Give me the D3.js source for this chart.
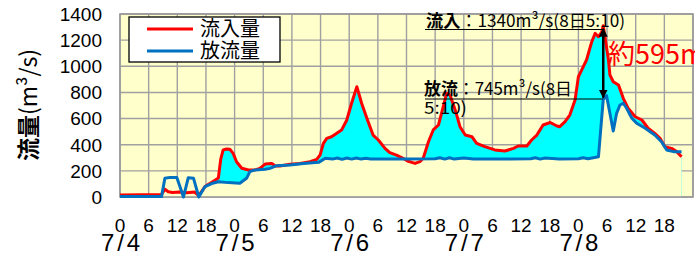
<!DOCTYPE html>
<html>
<head>
<meta charset="utf-8">
<script src="https://cdn.jsdelivr.net/npm/d3@7"></script>
<style>
  html, body { margin: 0; padding: 0; background: #ffffff; }
  svg { display: block; }
</style>
</head>
<body>
<div id="chart"></div>
<script>
// Hours counted from 7/4 0:00
const inflowHours = [0, 8.7, 9.4, 10.1, 11, 12.5, 14, 15.6, 16.5, 17.8, 19.9, 20.6, 21.1, 21.6, 22.3, 23.0, 23.7, 24.4, 25.5, 26.9,
  28.3, 29.3, 30.4, 31.8, 32.5, 33.5, 35.6, 37.7, 39.8, 41.2, 41.9, 42.6, 43.3, 44.3, 45.4, 46.4, 47.5, 48.5, 49.6, 50.6,
  51.7, 53.0, 54.1, 55.5, 56.5, 57.9, 59.3, 60.2, 61.8, 62.8, 63.5, 64.6, 65.6, 66.7, 67.7, 68.4, 69.1, 70.2, 71.2, 72.3,
  73.7, 74.7, 76.4, 78.5, 80.6, 82.4, 83.4, 85.2, 86.2, 87.3, 88.6, 90.1, 91.5, 92.1, 93.2, 94.2, 95.3, 96.0, 96.7, 97.7,
  98.8, 99.5, 100.2, 100.9, 101.2, 102.3, 102.6, 103.3, 104.4, 105.4, 106.4, 107.9, 109.3, 110.6, 112.0, 113.1, 114.1, 115.5, 116.6, 117.6];
const inflow = [15, 20, 60, 40, 35, 38, 32, 38, 10, 80, 128, 145, 290, 360, 367, 365, 334, 270, 220, 207,
  207, 219, 252, 257, 237, 237, 250, 257, 270, 288, 321, 410, 449, 461, 487, 512, 589, 717, 844, 717,
  602, 474, 436, 372, 339, 321, 296, 275, 257, 270, 296, 423, 513, 551, 691, 793, 780, 666, 538, 474,
  461, 411, 385, 360, 352, 372, 390, 390, 436, 474, 551, 570, 543, 538, 576, 627, 742, 920, 972, 1048,
  1188, 1252, 1226, 1264, 1310, 1048, 933, 882, 857, 755, 679, 614, 589, 526, 487, 449, 385, 372, 347, 308];

const outflowHours = [0, 8.7, 9.4, 10.5, 11.9, 13.3, 14.3, 15.4, 16.5, 17.8, 19.2, 20.6, 22.7, 25.1, 26.5, 27.2, 28.3, 30.4, 31.4, 32.8,
  35.6, 38.4, 41.6, 43.0, 44.5, 45.5, 46.5, 47.5, 48.5, 49.5, 50.5, 51.5, 52.5, 60, 66, 67, 68, 69, 70, 72,
  74, 80, 86, 87, 88, 89, 92, 96, 97, 98, 100.2, 101.2, 101.9, 103.3, 104.0, 104.7, 105.4, 106.1, 107.2, 108.2,
  110.0, 112.0, 113.4, 114.5, 115.9, 117.6];
const outflow = [3, 3, 143, 150, 150, 0, 148, 143, 0, 80, 103, 117, 110, 105, 143, 194, 207, 212, 219, 240,
  245, 257, 265, 296, 290, 298, 288, 298, 290, 298, 290, 296, 290, 290, 292, 300, 290, 300, 290, 298,
  290, 290, 292, 300, 290, 298, 290, 292, 300, 292, 308, 745, 775, 505, 640, 704, 717, 679, 602, 564,
  526, 474, 423, 360, 347, 347];

const yTicks = [0, 200, 400, 600, 800, 1000, 1200, 1400];
const hourLabels = ['0', '6', '12', '18'];
const dayLabels = ['7/4', '7/5', '7/6', '7/7', '7/8'];
const seriesNames = ['流入量', '放流量'];

const W = 695, H = 255;
const plot = { left: 120, top: 14, right: 693, bottom: 197 };

const svg = d3.select('#chart').append('svg')
  .attr('width', W).attr('height', H);

const x = d3.scaleLinear().domain([0, 120]).range([plot.left, plot.right]);
const y = d3.scaleLinear().domain([0, 1400]).range([plot.bottom, plot.top]);

const bg = '#ffffcc';
const gridColor = '#a0a0a0';
const jp = 'Noto Sans CJK JP, sans-serif';
const latin = 'Liberation Sans, Arial, sans-serif';

svg.append('rect')
  .attr('x', plot.left).attr('y', plot.top)
  .attr('width', plot.right - plot.left).attr('height', plot.bottom - plot.top)
  .attr('fill', bg);

// grid
const grid = svg.append('g');
grid.selectAll('line.h').data(yTicks).join('line')
  .attr('x1', plot.left).attr('x2', plot.right)
  .attr('y1', d => y(d)).attr('y2', d => y(d))
  .attr('stroke', gridColor).attr('stroke-width', 1.4);
grid.selectAll('line.v').data(d3.range(0, 121, 6)).join('line')
  .attr('x1', d => x(d)).attr('x2', d => x(d))
  .attr('y1', plot.top).attr('y2', plot.bottom)
  .attr('stroke', gridColor).attr('stroke-width', 1.4);

const inPts = inflowHours.map((h, i) => [h, inflow[i]]);
const outPts = outflowHours.map((h, i) => [h, outflow[i]]);

const area = d3.area().x(d => x(d[0])).y0(y(0)).y1(d => y(d[1]));
const line = d3.line().x(d => x(d[0])).y(d => y(d[1]));

// cyan under inflow, then outflow area painted over in background colour
svg.append('path').attr('d', area(inPts)).attr('fill', '#00ffff');
svg.append('path').attr('d', area(outPts)).attr('fill', bg);

// border
svg.append('rect')
  .attr('x', plot.left).attr('y', plot.top)
  .attr('width', plot.right - plot.left).attr('height', plot.bottom - plot.top)
  .attr('fill', 'none').attr('stroke', '#999999').attr('stroke-width', 1.6);

svg.append('path').attr('d', line(inPts))
  .attr('fill', 'none').attr('stroke', '#ff0000').attr('stroke-width', 3)
  .attr('stroke-linejoin', 'round');
svg.append('path').attr('d', line(outPts))
  .attr('fill', 'none').attr('stroke', '#0070c0').attr('stroke-width', 3)
  .attr('stroke-linejoin', 'round');

// y axis labels
svg.append('g').selectAll('text').data(yTicks).join('text')
  .attr('x', 102).attr('y', d => y(d)).attr('dy', '0.36em')
  .attr('text-anchor', 'end')
  .attr('font-family', latin)
  .attr('font-size', 19)
  .text(d => d);

const yTitle = svg.append('text')
  .attr('transform', 'translate(37,105) rotate(-90)')
  .attr('text-anchor', 'middle')
  .attr('font-family', jp)
  .attr('font-size', 23);
yTitle.append('tspan').attr('font-weight', 'bold').text('流量');
yTitle.append('tspan').text('(m³/s)');

// x axis labels
const xTicks = [];
dayLabels.forEach((d, di) => hourLabels.forEach((h, hi) => xTicks.push({ h: di * 24 + hi * 6, label: h })));
svg.append('g').selectAll('text').data(xTicks).join('text')
  .attr('x', d => x(d.h)).attr('y', 232)
  .attr('text-anchor', 'middle')
  .attr('font-family', latin)
  .attr('font-size', 19)
  .text(d => d.label);

svg.append('g').selectAll('text').data(dayLabels).join('text')
  .attr('x', (d, i) => x(i * 24) - 19).attr('y', 251)
  .attr('font-family', latin)
  .attr('font-size', 24)
  .attr('textLength', 39).attr('lengthAdjust', 'spacing')
  .text(d => d);

// legend
const legend = svg.append('g');
legend.append('rect')
  .attr('x', 129).attr('y', 17).attr('width', 151).attr('height', 45)
  .attr('fill', '#ffffff').attr('stroke', '#000000').attr('stroke-width', 1.3);
['#ff0000', '#0070c0'].forEach((c, i) => {
  legend.append('line')
    .attr('x1', 147).attr('x2', 193).attr('y1', 29 + i * 22).attr('y2', 29 + i * 22)
    .attr('stroke', c).attr('stroke-width', 3);
  legend.append('text')
    .attr('x', 200).attr('y', 36 + i * 22)
    .attr('font-family', jp)
    .attr('font-size', 20)
    .text(seriesNames[i]);
});

// annotations
const ann = svg.append('g').attr('font-family', jp).attr('font-size', 17);
const t1 = ann.append('text').attr('x', 426).attr('y', 27)
  .attr('textLength', 199).attr('lengthAdjust', 'spacingAndGlyphs');
t1.append('tspan').attr('font-weight', 'bold').text('流入');
t1.append('tspan').text('：1340m³/s(8日5:10)');
ann.append('line').attr('x1', 425).attr('x2', 603).attr('y1', 29.5).attr('y2', 29.5)
  .attr('stroke', '#000').attr('stroke-width', 1.2);
const t2 = ann.append('text').attr('x', 424).attr('y', 95)
  .attr('textLength', 148).attr('lengthAdjust', 'spacingAndGlyphs');
t2.append('tspan').attr('font-weight', 'bold').text('放流');
t2.append('tspan').text('：745m³/s(8日');
ann.append('text').attr('x', 424).attr('y', 114)
  .attr('textLength', 43).attr('lengthAdjust', 'spacingAndGlyphs')
  .text('5:10)');
ann.append('line').attr('x1', 425).attr('x2', 603).attr('y1', 99).attr('y2', 99)
  .attr('stroke', '#000').attr('stroke-width', 1.2);

const defs = svg.append('defs');
defs.append('marker').attr('id', 'ah')
  .attr('viewBox', '0 0 10 10').attr('refX', 9).attr('refY', 5)
  .attr('markerWidth', 3.6).attr('markerHeight', 3.6)
  .attr('orient', 'auto-start-reverse')
  .append('path').attr('d', 'M0,0 L10,5 L0,10 z').attr('fill', '#000');

svg.append('line')
  .attr('x1', x(101.2)).attr('x2', x(101.2))
  .attr('y1', y(1310) + 3).attr('y2', y(745) - 2)
  .attr('stroke', '#000').attr('stroke-width', 2.5)
  .attr('marker-start', 'url(#ah)').attr('marker-end', 'url(#ah)');

svg.append('text')
  .attr('x', 608).attr('y', 64)
  .attr('fill', '#ff0000')
  .attr('font-family', jp)
  .attr('font-size', 27)
  .text('約595m³/s');
</script>
</body>
</html>
